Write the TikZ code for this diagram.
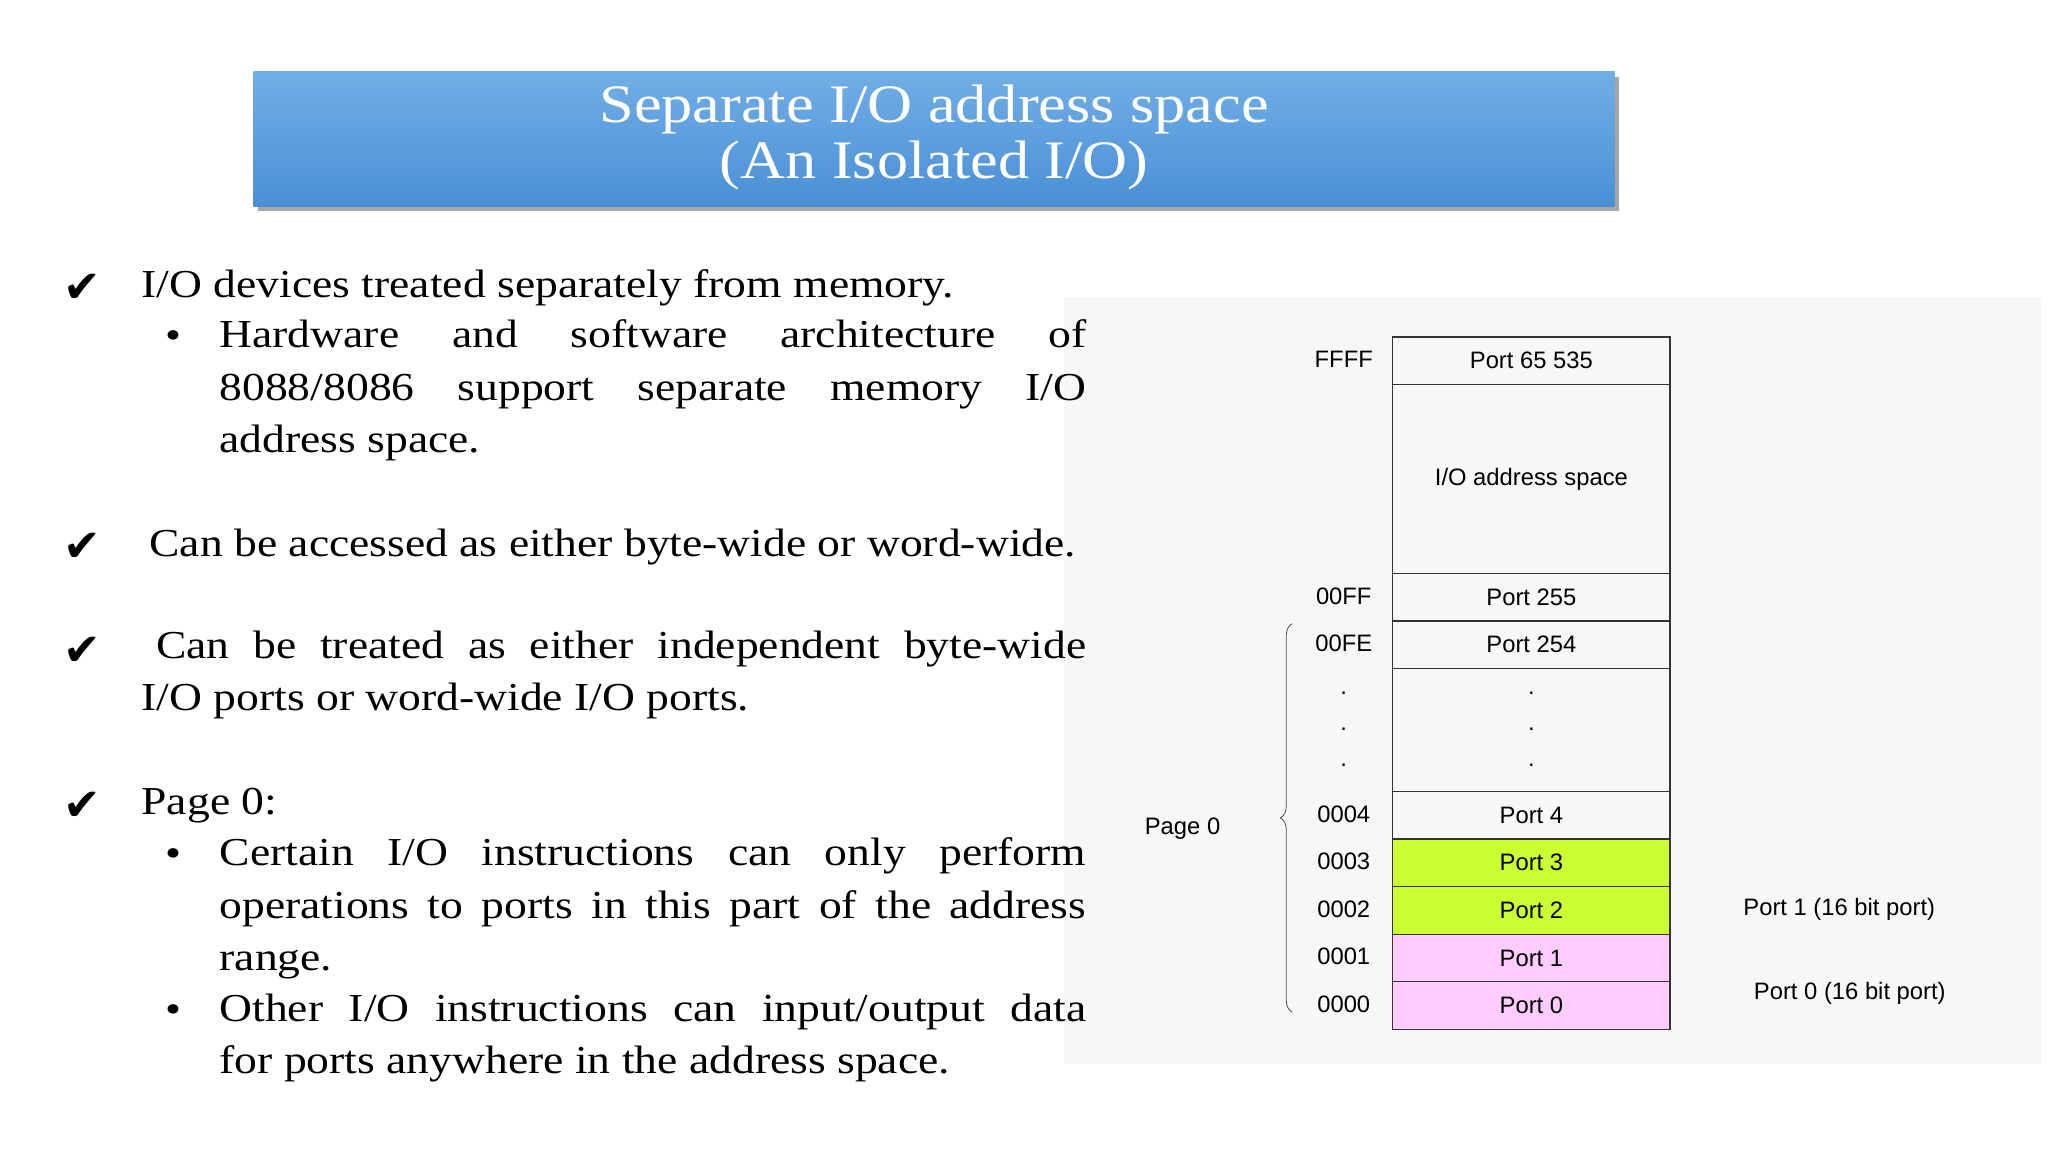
\documentclass[tikz,border=0pt]{standalone}
\usepackage{fontspec}
\setmainfont{Liberation Serif}[FakeStretch=1.15]
\newfontfamily\myck{DejaVu Sans}
\newfontfamily\mysf{Liberation Sans}
\usetikzlibrary{decorations.pathreplacing,shadows}
\definecolor{tb}{HTML}{4A8FD6}
\definecolor{tt}{HTML}{72AEE6}
\definecolor{yg}{HTML}{CCFF33}
\definecolor{pk}{HTML}{FFCCFF}
\begin{document}
\begin{tikzpicture}[x=1pt,y=-1pt,
  body/.style={inner sep=0pt,font=\fontsize{30}{39.5}\selectfont},
  para/.style={body,anchor=north west,text width=#1,align=justify},
  chk/.style={inner sep=0pt,font=\myck\bfseries\fontsize{34}{34}\selectfont},
  cell/.style={draw=black!80,line width=1pt,minimum width=210pt,inner sep=0pt,font=\mysf\fontsize{18}{20}\selectfont},
  lab/.style={inner sep=0pt,font=\mysf\fontsize{18}{20}\selectfont}]
\useasboundingbox (0,0) rectangle (1550,872);
\fill[white] (0,0) rectangle (1550,872);
\fill[black!3] (805,225) rectangle (1545,805);
% title
\fill[black!35] (195,58) rectangle (1225,160);
\shade[top color=tt,bottom color=tb] (192,54) rectangle (1222,156);
\node[inner sep=0pt,text=white,align=center,font=\fontsize{41}{43}\selectfont] (title) at (707,104) {Separate I/O address space\\(An Isolated I/O)};
% left text
\node[chk] (c1) at (62,218) {✔};
\node[body,anchor=west] (t1) at (107,218) {I/O devices treated separately from memory.};
\node[body] (b1) at (131,257) {•};
\node[para=656pt] (p1) at (166,242) {Hardware and software architecture of\linebreak 8088/8086 support separate memory I/O\linebreak address space.};
\node[chk] (c2) at (62,414) {✔};
\node[body,anchor=west] (t2) at (113,414) {Can be accessed as either byte-wide or word-wide.};
\node[chk] (c3) at (62,493) {✔};
\node[para=715pt] (p3) at (107,477) {\hspace{11pt}Can be treated as either independent byte-wide\linebreak I/O ports or word-wide I/O ports.};
\node[chk] (c4) at (62,610) {✔};
\node[body,anchor=west] (t4) at (107,610) {Page 0:};
\node[body] (b2) at (131,649) {•};
\node[para=656pt] (p4) at (166,634) {Certain I/O instructions can only perform\linebreak operations to ports in this part of the address\linebreak range.};
\node[body] (b3) at (131,767) {•};
\node[para=656pt] (p5) at (166,752) {Other I/O instructions can input/output data\linebreak for ports anywhere in the address space.};
% table
\node[cell,minimum height=36pt] (r1) at (1159,273) {Port 65 535};
\node[cell,minimum height=143pt] (r2) at (1159,362.5) {I/O address space};
\node[cell,minimum height=36pt] (r3) at (1159,452) {Port 255};
\node[cell,minimum height=36pt] (r4) at (1159,488) {Port 254};
\node[cell,minimum height=93pt] (r5) at (1159,552.5) {};
\node[cell,minimum height=36pt] (r6) at (1159,617) {Port 4};
\node[cell,minimum height=36pt,fill=yg] (r7) at (1159,653) {Port 3};
\node[cell,minimum height=36pt,fill=yg] (r8) at (1159,689) {Port 2};
\node[cell,minimum height=36pt,fill=pk] (r9) at (1159,725) {Port 1};
\node[cell,minimum height=36pt,fill=pk] (r10) at (1159,761) {Port 0};
\foreach \y [count=\i] in {525,552,579}{
  \node[lab] (d\i) at (1159,\y) {.};
  \node[lab] (e\i) at (1017,\y) {.};}
\node[lab] (h1) at (1017,272) {FFFF};
\node[lab] (h2) at (1017,451) {00FF};
\node[lab] (h3) at (1017,487) {00FE};
\node[lab] (h4) at (1017,616) {0004};
\node[lab] (h5) at (1017,652) {0003};
\node[lab] (h6) at (1017,688) {0002};
\node[lab] (h7) at (1017,724) {0001};
\node[lab] (h8) at (1017,760) {0000};
\coordinate (bt) at (978,472);
\coordinate (bb) at (978,766);
\draw[decorate,decoration={brace,amplitude=9pt,mirror},line width=0.6pt,black!70] (bt) -- (bb);
\node[lab] (pg) at (895,627) {Page 0};
\node[lab] (q1) at (1392,688) {Port 1 (16 bit port)};
\node[lab] (q0) at (1400,752) {Port 0 (16 bit port)};
\end{tikzpicture}
\end{document}
